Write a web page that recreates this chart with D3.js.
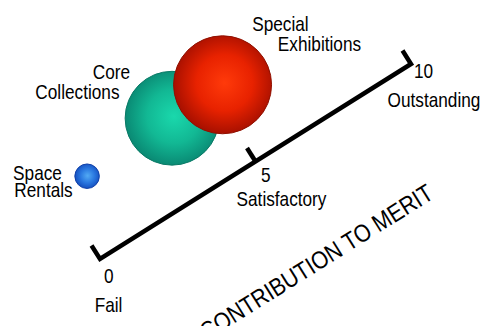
<!DOCTYPE html>
<html>
<head>
<meta charset="utf-8">
<script src="https://cdnjs.cloudflare.com/ajax/libs/d3/7.8.5/d3.min.js"></script>
<style>
  body { margin: 0; background: #fff; }
  svg { display: block; }
  text { font-family: "Liberation Sans", Arial, sans-serif; fill: #000; }
</style>
</head>
<body>
<svg id="chart" width="486" height="326"></svg>
<script>
// values
var programs = ["Space Rentals", "Core Collections", "Special Exhibitions"];
var labelLines = [["Space", "Rentals"], ["Core", "Collections"], ["Special", "Exhibitions"]];
var merit = [0.9, 3.7, 5.35];     // along CONTRIBUTION TO MERIT
var lift = [7.7, 8.1, 8.25];      // height above the merit axis
var size = [6, 88, 96];           // bubble size
var tickValues = [0, 5, 10];
var tickNames = ["Fail", "Satisfactory", "Outstanding"];
var axisTitle = "CONTRIBUTION TO MERIT";

var colors = [
  {id: "gBlue", c0: "#52aaf4", c1: "#2a78e0", c2: "#1450c0", stroke: "#1040a8"},
  {id: "gTeal", c0: "#1ad8ac", c1: "#12b894", c2: "#0a8a74", stroke: "#0a7a66"},
  {id: "gRed",  c0: "#ff3a0a", c1: "#e82200", c2: "#a81000", stroke: "#901000"}
];

var svg = d3.select("#chart");
var FS = 21, SX = 0.82;

// merit axis runs diagonally across the page
var ax = d3.scaleLinear().domain([0, 10]).range([100, 411]);
var ay = d3.scaleLinear().domain([0, 10]).range([259, 64]);
var dx = ax(10) - ax(0), dy = ay(10) - ay(0), len = Math.sqrt(dx*dx + dy*dy);
var ux = dx/len, uy = dy/len, vx = uy, vy = -ux;   // v points up-left
var angle = Math.atan2(dy, dx) * 180 / Math.PI;
var liftScale = d3.scaleLinear().domain([0, 10]).range([0, 100]);
var r = d3.scaleSqrt().domain([0, 100]).range([0, 50]);

function px(m, l){ return ax(m) + vx*liftScale(l); }
function py(m, l){ return ay(m) + vy*liftScale(l); }

var defs = svg.append("defs");
colors.forEach(function(c){
  var g = defs.append("radialGradient").attr("id", c.id)
    .attr("cx", "52%").attr("cy", "48%").attr("r", "52%");
  g.append("stop").attr("offset", "0%").attr("stop-color", c.c0);
  g.append("stop").attr("offset", "55%").attr("stop-color", c.c1);
  g.append("stop").attr("offset", "100%").attr("stop-color", c.c2);
});

// axis
var tl = 16;
var axisPath = d3.path();
axisPath.moveTo(ax(0) + vx*tl, ay(0) + vy*tl);
axisPath.lineTo(ax(0), ay(0));
axisPath.lineTo(ax(10), ay(10));
axisPath.lineTo(ax(10) + vx*tl, ay(10) + vy*tl);
svg.append("path").attr("d", axisPath.toString())
  .attr("fill", "none").attr("stroke", "#000").attr("stroke-width", 4.5)
  .attr("stroke-linejoin", "miter");
svg.selectAll(".tick").data(tickValues.slice(1, -1)).enter().append("line")
  .attr("class", "tick")
  .attr("x1", function(d){ return ax(d); }).attr("y1", function(d){ return ay(d); })
  .attr("x2", function(d){ return ax(d) + vx*tl; }).attr("y2", function(d){ return ay(d) + vy*tl; })
  .attr("stroke", "#000").attr("stroke-width", 4.5);

// tick labels (number + name), nudged per tick
var tickOff = [
  {num: [4, 24], word: [8.5, 53]},
  {num: [5.5, 20.5], word: [26, 44.5]},
  {num: [3, 14], word: [23, 43]}
];
function tx(x, y){ return "translate(" + x + "," + y + ") scale(" + SX + ",1)"; }

tickValues.forEach(function(t, i){
  svg.append("text").attr("font-size", FS).attr("text-anchor", "start")
    .attr("transform", tx(ax(t) + tickOff[i].num[0], ay(t) + tickOff[i].num[1]))
    .text(t);
  svg.append("text").attr("font-size", FS).attr("text-anchor", "middle")
    .attr("transform", tx(ax(t) + tickOff[i].word[0], ay(t) + tickOff[i].word[1]))
    .text(tickNames[i]);
});

// axis title, below and parallel to the axis (runs off the bottom edge)
var tm = 4.95, toff = -126;
svg.append("text").attr("font-size", 22.5).attr("text-anchor", "middle")
  .attr("transform", "translate(" + (ax(tm) + vx*toff) + "," + (ay(tm) + vy*toff) + ") rotate(" + angle + ") scale(0.95,1.1)")
  .text(axisTitle);

// bubbles
svg.selectAll(".bubble").data(programs).enter().append("circle")
  .attr("class", "bubble")
  .attr("cx", function(d, i){ return px(merit[i], lift[i]); })
  .attr("cy", function(d, i){ return py(merit[i], lift[i]); })
  .attr("r", function(d, i){ return r(size[i]); })
  .attr("fill", function(d, i){ return "url(#" + colors[i].id + ")"; })
  .attr("stroke", function(d, i){ return colors[i].stroke; })
  .attr("stroke-width", 1);

// bubble labels
var labelOff = [
  [[-49.6, 3.8], [-43.6, 20.8]],
  [[-60.6, -39.3], [-94.6, -19.3]],
  [[57.9, -53.8], [96.9, -33.8]]
];
programs.forEach(function(p, i){
  var cx = px(merit[i], lift[i]), cy = py(merit[i], lift[i]);
  labelLines[i].forEach(function(line, j){
    svg.append("text").attr("font-size", FS).attr("text-anchor", "middle")
      .attr("transform", tx(cx + labelOff[i][j][0], cy + labelOff[i][j][1]))
      .text(line);
  });
});
</script>
</body>
</html>
